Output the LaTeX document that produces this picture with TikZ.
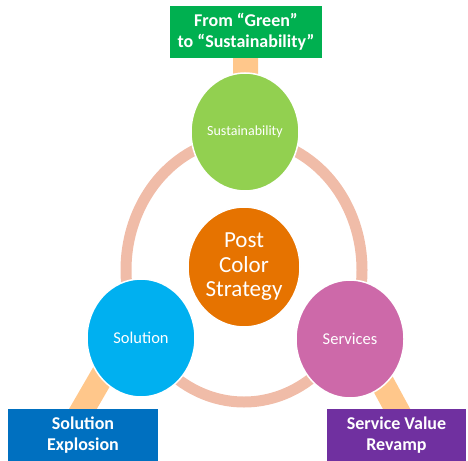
\documentclass[tikz,border=0pt]{standalone}
\usepackage{fontspec}
\setmainfont{Carlito}
\usepackage{tikz}
\usepackage{xcolor}
\usetikzlibrary{shapes.geometric,backgrounds}

\definecolor{boxgreen}{HTML}{00B050}
\definecolor{boxblue}{HTML}{0070C0}
\definecolor{boxpurple}{HTML}{7030A0}
\definecolor{circgreen}{HTML}{92D050}
\definecolor{circorange}{HTML}{E67300}
\definecolor{circblue}{HTML}{00B0F0}
\definecolor{circpink}{HTML}{CD69A9}
\definecolor{ringsalmon}{HTML}{F0BCA8}
\definecolor{barpeach}{HTML}{FFC78B}

\begin{document}
\begin{tikzpicture}[x=1pt, y=-1pt,
	topic/.style={ellipse, draw=white, line width=1.5pt, minimum width=108pt, minimum height=118pt, inner sep=0pt, text=white, align=center, font=\fontsize{16.5}{18}\selectfont},
	tagbox/.style={rectangle, minimum height=52pt, inner sep=0pt, text=white, align=center, font=\bfseries\fontsize{18}{21}\selectfont},
	bar/.style={line width=24pt, color=barpeach, shorten <=-20pt, shorten >=-10pt},
	ringline/.style={line width=11pt, color=ringsalmon}]
	\useasboundingbox (0,0) rectangle (468,460);
	\node[topic, fill=circgreen, font=\fontsize{14}{16}\selectfont] (sust) at (245,132) {Sustainability};
	\node[topic, fill=circorange, minimum width=112pt, minimum height=120pt, font=\fontsize{23}{24.5}\selectfont] (post) at (244,267) {Post\\Color\\Strategy};
	\node[topic, fill=circblue] (sol) at (141,338) {Solution};
	\node[topic, fill=circpink] (serv) at (350,339) {Services};
	\node[tagbox, fill=boxgreen, minimum width=152pt] (greenbox) at (246,32) {From “Green”\\to “Sustainability”};
	\node[tagbox, fill=boxblue, minimum width=150pt] (solbox) at (83,435) {Solution\\Explosion};
	\node[tagbox, fill=boxpurple, minimum width=139pt] (servbox) at (396.5,435) {Service Value\\Revamp};
	\begin{scope}[on background layer]
		\draw[ringline] (244,270) ellipse (118pt and 132pt);
		\draw[line width=25pt, color=barpeach] (sust.center) -- (greenbox.center);
		\draw[bar] (sol.225) -- (solbox.north);
		\draw[bar] (serv.306) -- (servbox.north);
	\end{scope}
\end{tikzpicture}
\end{document}
